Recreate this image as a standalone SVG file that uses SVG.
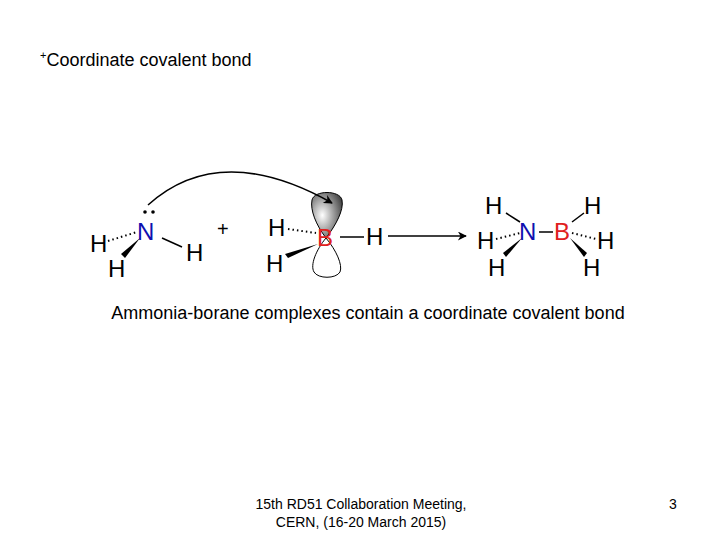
<svg xmlns="http://www.w3.org/2000/svg" width="720" height="540" viewBox="0 0 720 540">
<style>
text{font-family:"Liberation Sans",Arial,sans-serif;fill:#000}
.at{font-size:24px}
.N{fill:#1010b0}.B{fill:#e02020}
.ln{stroke:#000;stroke-width:1.5;fill:none}
.hs{stroke:#000;stroke-width:2;stroke-dasharray:1.5 3;fill:none}
</style>
<defs>
<marker id="ah" viewBox="0 0 10 10" refX="9" refY="5" markerWidth="12" markerHeight="9" orient="auto" markerUnits="userSpaceOnUse"><path d="M0,0L10,5L0,10L3,5z" fill="#000"/></marker>
<radialGradient id="lobe" cx="0.35" cy="0.5" r="0.7"><stop offset="0" stop-color="#fff"/><stop offset="1" stop-color="#444"/></radialGradient>
</defs>
<rect width="720" height="540" fill="#fff"/>
<text x="40" y="66" font-size="18"><tspan font-size="11" dy="-7">+</tspan><tspan dy="7">Coordinate covalent bond</tspan></text>
<g id="borane">
<path d="M326,238 C316,225 310,210 312,200 C314,190 340,190 342,200 C344,210 336,225 326,238z" fill="url(#lobe)" stroke="#000" stroke-width="1"/>
<path d="M326,238 C316,250 310,265 314,272 C318,279 336,279 340,272 C343,265 336,250 326,238z" fill="#fff" stroke="#000" stroke-width="1"/>
<text class="at B" x="317" y="246">B</text>
<text class="at" x="268" y="236">H</text>
<line class="hs" x1="288" y1="229" x2="316" y2="233"/>
<polygon points="318,244 288,258 285,254"/>
<text class="at" x="266" y="272">H</text>
<line class="ln" x1="340" y1="237" x2="364" y2="237"/>
<text class="at" x="366" y="245">H</text>
</g>
<g id="connectors">
<path class="ln" d="M148,205 Q220,140 332,203" marker-end="url(#ah)" stroke-width="1.3"/>
<line class="ln" x1="388" y1="236" x2="466" y2="236" marker-end="url(#ah)"/>
</g>
<g id="ammonia">
<circle cx="145" cy="212" r="1.8"/><circle cx="153" cy="212" r="1.8"/>
<text class="at N" x="137" y="240">N</text>
<line class="hs" x1="108" y1="241" x2="137" y2="232"/>
<text class="at" x="90" y="252">H</text>
<polygon points="140,238 125,258 121,254"/>
<text class="at" x="108" y="277">H</text>
<line class="ln" x1="162" y1="238" x2="182" y2="247"/>
<text class="at" x="186" y="261">H</text>
</g>
<text x="217" y="236" font-size="20">+</text>
<g id="product">
<text class="at N" x="519" y="240">N</text>
<line class="ln" x1="539" y1="232" x2="553" y2="232"/>
<text class="at B" x="554" y="240">B</text>
<text class="at" x="485" y="214">H</text>
<line class="ln" x1="506" y1="213" x2="520" y2="222"/>
<text class="at" x="477" y="249">H</text>
<line class="hs" x1="496" y1="239" x2="520" y2="233"/>
<polygon points="522,238 506,257 503,253"/>
<text class="at" x="488" y="276">H</text>
<text class="at" x="584" y="214">H</text>
<line class="ln" x1="584" y1="213" x2="572" y2="222"/>
<text class="at" x="597" y="249">H</text>
<line class="hs" x1="572" y1="233" x2="596" y2="239"/>
<polygon points="570,238 584,257 587,253"/>
<text class="at" x="583" y="276">H</text>
</g>
<text x="368" y="319" font-size="18" text-anchor="middle">Ammonia-borane complexes contain a coordinate covalent bond</text>
<text x="361" y="509" font-size="14" text-anchor="middle">15th RD51 Collaboration Meeting,</text>
<text x="361" y="527" font-size="14" text-anchor="middle">CERN, (16-20 March 2015)</text>
<text x="673" y="509" font-size="14" text-anchor="middle">3</text>
</svg>
